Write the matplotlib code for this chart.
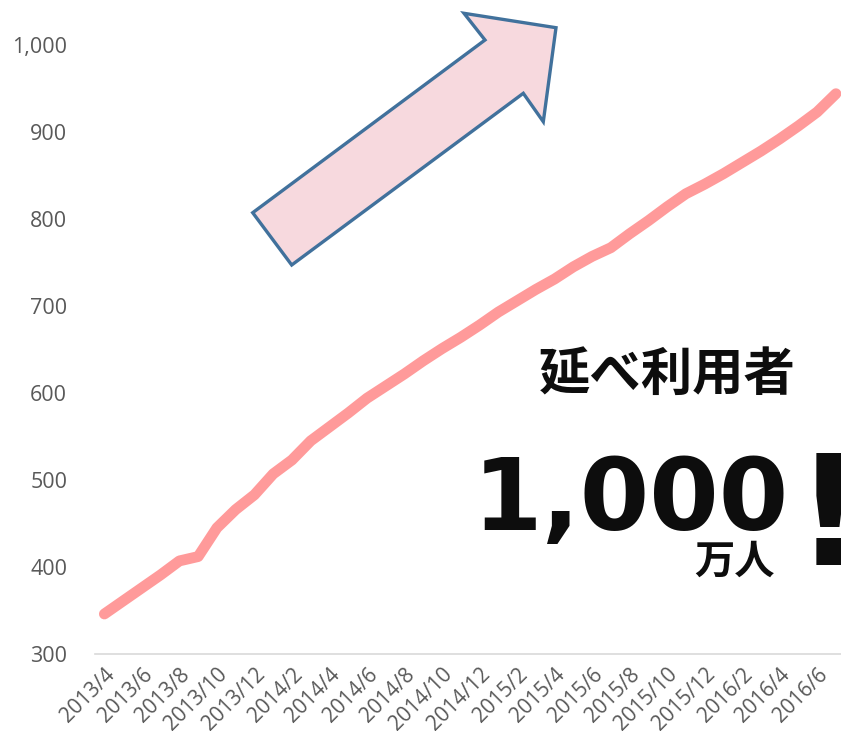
import matplotlib
matplotlib.use("Agg")
import matplotlib.pyplot as plt
from matplotlib.patches import Polygon

W, H = 841, 731

months = ["2013/4", "2013/5", "2013/6", "2013/7", "2013/8", "2013/9", "2013/10", "2013/11", "2013/12",
          "2014/1", "2014/2", "2014/3", "2014/4", "2014/5", "2014/6", "2014/7", "2014/8", "2014/9",
          "2014/10", "2014/11", "2014/12",
          "2015/1", "2015/2", "2015/3", "2015/4", "2015/5", "2015/6", "2015/7", "2015/8", "2015/9",
          "2015/10", "2015/11", "2015/12",
          "2016/1", "2016/2", "2016/3", "2016/4", "2016/5", "2016/6", "2016/7"]
users = [346, 361, 376, 391, 407, 412, 445, 466, 483,
         507, 523, 545, 561, 577, 594, 608, 622, 637, 651, 664, 678,
         693, 706, 719, 731, 745, 757, 767, 783, 798, 814, 829, 840,
         852, 865, 878, 892, 907, 923, 944]
y_ticks = [300, 400, 500, 600, 700, 800, 900, 1000]


def px(x, y):
    # pixel position -> figure fraction
    return x / W, 1 - y / H


fig = plt.figure(figsize=(W / 100, H / 100), dpi=100)
ax = fig.add_axes([95 / W, (H - 654) / H, (W - 95) / W, (654 - 45) / H])

x = list(range(len(months)))
ax.plot(x, users, color="#FF9A9A", lw=7.8, solid_capstyle="round", solid_joinstyle="round")

ax.set_xlim(-0.5, 39.27)
ax.set_ylim(300, 1000)
ax.set_yticks(y_ticks)
ax.set_yticklabels([f"{v:,}" for v in y_ticks])
ax.set_xticks(x[::2])
ax.set_xticklabels(months[::2], rotation=45, ha="right", va="top", rotation_mode="anchor")

for s in ["left", "right", "top"]:
    ax.spines[s].set_visible(False)
ax.spines["bottom"].set_color("#D9D9D9")
ax.spines["bottom"].set_linewidth(1.2)
ax.tick_params(axis="y", length=0, pad=20, labelsize=15.5, labelcolor="#595959")
ax.tick_params(axis="x", length=0, pad=7, labelsize=15, labelcolor="#595959")
for lab in ax.get_xticklabels() + ax.get_yticklabels():
    lab.set_family("Open Sans")

# decorative arrow
arrow_px = [(252.7, 212.7), (291.7, 265), (523.3, 93.3), (543.3, 121.7),
            (556, 27.7), (464, 13.3), (485, 40)]
arrow = Polygon([px(a, b) for a, b in arrow_px], closed=True, transform=fig.transFigure,
                facecolor="#F7D9DE", edgecolor="#41719C", lw=2.4, joinstyle="miter")
fig.patches.append(arrow)

jp = ["Noto Sans CJK JP", "DejaVu Sans"]
fig.text(*px(667, 374), "延べ利用者", family=jp, weight="bold", fontsize=37,
         ha="center", va="center", color="#0D0D0D")
fig.text(*px(473, 530), "1,000", family="DejaVu Sans", weight="bold", fontsize=72,
         ha="left", va="baseline", color="#0D0D0D")
fig.text(*px(734, 562), "万人", family=jp, weight="bold", fontsize=29,
         ha="center", va="center", color="#0D0D0D")
fig.text(*px(829, 565), "!", family="DejaVu Sans", weight="bold", fontsize=110,
         ha="center", va="baseline", color="#0D0D0D")

fig.savefig("out.png", dpi=100)
